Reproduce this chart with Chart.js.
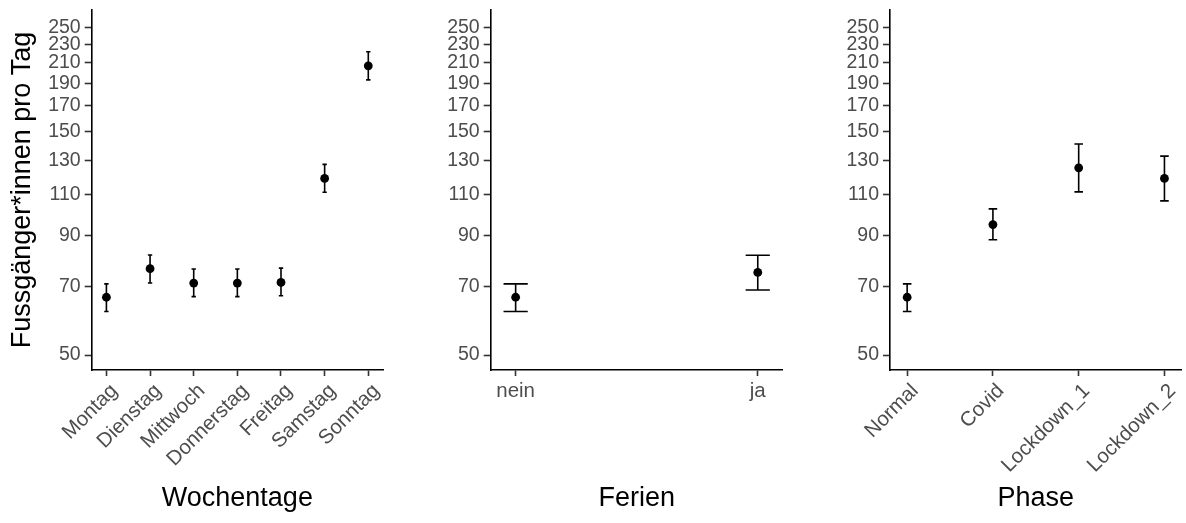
<!DOCTYPE html>
<html>
<head>
<meta charset="utf-8">
<script src="https://cdn.jsdelivr.net/npm/chart.js@4"></script>
<style>
  html, body { margin: 0; padding: 0; background: #fff; }
  #wrap { position: relative; width: 1186px; height: 523px; }
  .panel { position: absolute; top: 0; height: 523px; }
</style>
</head>
<body>
<div id="wrap">
  <div class="panel" style="left:0;width:392px"><canvas id="c1"></canvas></div>
  <div class="panel" style="left:400px;width:392px"><canvas id="c2"></canvas></div>
  <div class="panel" style="left:800px;width:386px"><canvas id="c3"></canvas></div>
</div>
<script>
// Mittlere Fussgänger*innen pro Tag mit Konfidenzintervallen
const yTicks = [50, 70, 90, 110, 130, 150, 170, 190, 210, 230, 250];

const wochentage = ['Montag', 'Dienstag', 'Mittwoch', 'Donnerstag', 'Freitag', 'Samstag', 'Sonntag'];
const wochentageMean  = [66.4, 76.4, 71.2, 71.2, 71.4, 119.0, 206.9];
const wochentageLower = [61.9, 71.2, 66.6, 66.6, 66.9, 111.2, 193.1];
const wochentageUpper = [70.9, 81.7, 76.3, 76.3, 76.6, 127.5, 221.7];

const ferien = ['nein', 'ja'];
const ferienMean  = [66.4, 75.0];
const ferienLower = [61.9, 68.8];
const ferienUpper = [70.9, 81.6];

const phase = ['Normal', 'Covid', 'Lockdown_1', 'Lockdown_2'];
const phaseMean  = [66.4, 94.9, 125.4, 119.0];
const phaseLower = [61.9, 88.1, 111.4, 106.6];
const phaseUpper = [70.9, 102.5, 140.9, 132.8];

Chart.defaults.font.family = '"Liberation Sans", Arial, Helvetica, sans-serif';
Chart.defaults.animation = false;

// Draws vertical error bars with caps (cap width in category units)
const errorBars = {
  id: 'errorBars',
  beforeDatasetsDraw(chart, args, opts) {
    const { ctx, scales: { x, y } } = chart;
    const half = Math.abs(x.getPixelForValue(opts.capWidth / 2) - x.getPixelForValue(0));
    ctx.save();
    ctx.strokeStyle = '#000';
    ctx.lineWidth = 1.6;
    opts.lower.forEach((lo, i) => {
      const px = x.getPixelForValue(i);
      const yl = y.getPixelForValue(lo);
      const yu = y.getPixelForValue(opts.upper[i]);
      ctx.beginPath();
      ctx.moveTo(px, yl); ctx.lineTo(px, yu);
      ctx.moveTo(px - half, yl); ctx.lineTo(px + half, yl);
      ctx.moveTo(px - half, yu); ctx.lineTo(px + half, yu);
      ctx.stroke();
    });
    ctx.restore();
  }
};

function makePanel(id, cats, mean, lower, upper, cfg) {
  const n = cats.length;
  return new Chart(document.getElementById(id), {
    type: 'scatter',
    data: {
      datasets: [{
        data: mean.map((v, i) => ({ x: i, y: v })),
        backgroundColor: '#000',
        borderColor: '#000',
        borderWidth: 0,
        pointRadius: 4.4,
        pointHoverRadius: 4.4
      }]
    },
    plugins: [errorBars],
    options: {
      responsive: true,
      maintainAspectRatio: false,
      layout: { padding: { top: 10, right: cfg.padRight, bottom: 0, left: 0 } },
      plugins: {
        legend: { display: false },
        tooltip: { enabled: false },
        errorBars: { lower, upper, capWidth: 0.1 }
      },
      scales: {
        x: {
          type: 'linear',
          min: -cfg.expand,
          max: n - 1 + cfg.expand,
          afterBuildTicks: (s) => { s.ticks = cats.map((_, i) => ({ value: i })); },
          afterFit: (s) => { s.height = 153; s.paddingLeft = 0; s.paddingRight = 0; },
          grid: { drawOnChartArea: false, drawTicks: true, tickLength: 6, tickColor: '#333', tickWidth: 1.6 },
          border: { display: true, color: '#000', width: 1.6 },
          ticks: {
            autoSkip: false,
            minRotation: cfg.rotation,
            maxRotation: cfg.rotation,
            labelOffset: cfg.rotation ? 8 : 0,
            padding: 3,
            color: '#4d4d4d',
            font: { size: 20.5 },
            callback: (v) => cats[v]
          },
          title: {
            display: true,
            text: cfg.xTitle,
            color: '#000',
            font: { size: 27 },
            padding: { top: 0, bottom: 8 }
          }
        },
        y: {
          type: 'logarithmic',
          min: 46.45,
          max: 272.2,
          afterBuildTicks: (s) => { s.ticks = yTicks.map(v => ({ value: v })); },
          afterFit: (s) => { s.width = cfg.yWidth; s.paddingTop = 0; s.paddingBottom = 0; },
          grid: { drawOnChartArea: false, drawTicks: true, tickLength: 7, tickColor: '#333', tickWidth: 1.6 },
          border: { display: true, color: '#000', width: 1.6 },
          ticks: {
            padding: 4,
            color: '#4d4d4d',
            font: { size: 19.5 },
            callback: (v) => String(v)
          },
          title: {
            display: !!cfg.yTitle,
            text: cfg.yTitle || '',
            color: '#000',
            font: { size: 27 },
            padding: { top: 6, bottom: 0 }
          }
        }
      }
    }
  });
}

makePanel('c1', wochentage, wochentageMean, wochentageLower, wochentageUpper,
  { expand: 0.337, rotation: 45, xTitle: 'Wochentage', yTitle: 'Fussgänger*innen pro Tag', yWidth: 91.7, padRight: 9 });
makePanel('c2', ferien, ferienMean, ferienLower, ferienUpper,
  { expand: 0.103, rotation: 0, xTitle: 'Ferien', yWidth: 90.7, padRight: 9.3 });
makePanel('c3', phase, phaseMean, phaseLower, phaseUpper,
  { expand: 0.2, rotation: 45, xTitle: 'Phase', yWidth: 90, padRight: 4.3 });
</script>
</body>
</html>
